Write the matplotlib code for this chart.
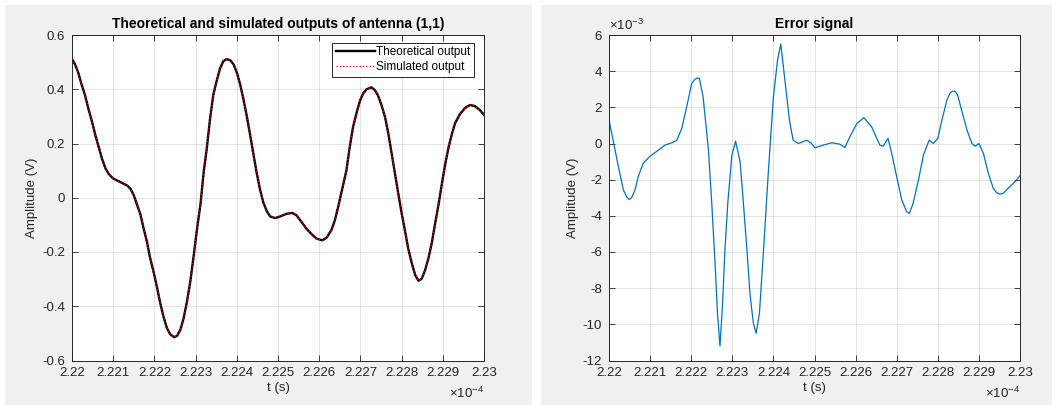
import numpy as np
import matplotlib
matplotlib.use("Agg")
import matplotlib.pyplot as plt
from matplotlib.patches import Rectangle

plt.rcParams["font.family"] = ["Liberation Sans", "DejaVu Sans"]
plt.rcParams["axes.unicode_minus"] = False
plt.rcParams["mathtext.fontset"] = "custom"
plt.rcParams["mathtext.rm"] = "Liberation Sans"

# === Data (time in units of 1e-4 s) ===

t_out = [2.2200, 2.22007, 2.22015, 2.22023, 2.22032, 2.2204, 2.22049, 2.22057,
         2.22065, 2.22073, 2.22081, 2.22089, 2.22099, 2.22109, 2.22121, 2.22134,
         2.22142, 2.2215, 2.22157, 2.22166, 2.22173, 2.22182, 2.22189, 2.22198,
         2.22206, 2.22214, 2.22222, 2.2223, 2.22238, 2.22248, 2.22255, 2.22263,
         2.22271, 2.22279, 2.22287, 2.22295, 2.22303, 2.22312, 2.2232, 2.22327,
         2.22335, 2.22343, 2.22351, 2.22359, 2.22367, 2.22375, 2.22384, 2.22392,
         2.2240, 2.22408, 2.22416, 2.22424, 2.22432, 2.2244, 2.22448, 2.22456,
         2.22464, 2.22473, 2.22481, 2.22493, 2.22505, 2.22521, 2.22535, 2.22545,
         2.22557, 2.22569, 2.22582, 2.22594, 2.22608, 2.22618, 2.2263, 2.22638,
         2.22646, 2.22654, 2.22666, 2.22674, 2.22682, 2.22691, 2.22699, 2.22707,
         2.22715, 2.22727, 2.22735, 2.22743, 2.22751, 2.2276, 2.22768, 2.22776,
         2.22784, 2.22792, 2.2280, 2.22808, 2.22816, 2.22825, 2.22833, 2.22841,
         2.22849, 2.22857, 2.22865, 2.22873, 2.22881, 2.2289, 2.22898, 2.22906,
         2.22914, 2.22922, 2.2293, 2.22942, 2.22954, 2.22966, 2.22978, 2.2299,
         2.2300]
theoretical = [0.511, 0.493, 0.462, 0.419, 0.376, 0.327, 0.278, 0.229,
               0.186, 0.143, 0.109, 0.088, 0.072, 0.064, 0.055, 0.045,
               0.033, 0.009, -0.022, -0.061, -0.108, -0.163, -0.218, -0.273,
               -0.328, -0.387, -0.438, -0.479, -0.503, -0.514, -0.509, -0.487,
               -0.444, -0.383, -0.31, -0.218, -0.12, -0.022, 0.10, 0.18,
               0.29, 0.38, 0.43, 0.475, 0.503, 0.511, 0.507, 0.492,
               0.462, 0.419, 0.364, 0.303, 0.235, 0.164, 0.094, 0.033,
               -0.016, -0.05, -0.069, -0.075, -0.069, -0.059, -0.056, -0.065,
               -0.089, -0.114, -0.135, -0.151, -0.157, -0.147, -0.118, -0.083,
               -0.034, 0.02, 0.10, 0.186, 0.26, 0.315, 0.358, 0.385,
               0.40, 0.407, 0.397, 0.376, 0.343, 0.296, 0.235, 0.162,
               0.088, 0.015, -0.056, -0.12, -0.187, -0.243, -0.285, -0.306,
               -0.298, -0.267, -0.224, -0.169, -0.098, -0.022, 0.054, 0.125,
               0.186, 0.235, 0.276, 0.309, 0.331, 0.342, 0.338, 0.323,
               0.306]
simulated = theoretical

t_err = [2.2200, 2.2201, 2.22023, 2.22035, 2.22043, 2.22049, 2.22055, 2.22063,
         2.22071, 2.22083, 2.2210, 2.2212, 2.22136, 2.22153, 2.22165, 2.22177,
         2.22189, 2.22201, 2.22209, 2.22215, 2.2222, 2.22229, 2.22242, 2.2225,
         2.22258, 2.22264, 2.2227, 2.22276, 2.22282, 2.22289, 2.22299, 2.22308,
         2.22319, 2.22327, 2.22335, 2.22343, 2.22351, 2.22358, 2.22366, 2.22375,
         2.22388, 2.2240, 2.2241, 2.22418, 2.22428, 2.22439, 2.22448, 2.22461,
         2.22481, 2.22491, 2.22501, 2.22521, 2.22542, 2.22562, 2.22574, 2.22586,
         2.22603, 2.2262, 2.22639, 2.22659, 2.22667, 2.22679, 2.22688, 2.2270,
         2.22712, 2.22724, 2.22731, 2.2274, 2.22753, 2.22765, 2.22779, 2.22789,
         2.2280, 2.2281, 2.22822, 2.2283, 2.22836, 2.22842, 2.22848, 2.22858,
         2.22871, 2.22883, 2.22891, 2.2290, 2.22911, 2.22923, 2.22935, 2.22943,
         2.22951, 2.22959, 2.22971, 2.22988, 2.2300]
error_e3 = [1.29, 0.18, -1.29, -2.57, -2.95, -3.1, -3.0, -2.6,
            -1.84, -1.1, -0.70, -0.37, -0.09, 0.04, 0.18, 0.83,
            2.02, 3.31, 3.55, 3.62, 3.6, 2.57, -0.37, -3.3,
            -6.6, -9.4, -11.2, -9.0, -5.9, -3.3, -0.64, 0.13,
            -1.0, -3.3, -5.7, -8.3, -9.9, -10.5, -9.4, -6.25,
            -1.47, 2.57, 4.6, 5.5, 3.5, 1.29, 0.18, 0.0,
            0.18, 0.04, -0.24, -0.09, 0.04, -0.04, -0.22, 0.37,
            1.10, 1.43, 0.92, -0.09, -0.15, 0.28, -0.55, -1.84,
            -3.1, -3.77, -3.86, -3.3, -2.02, -0.64, 0.18, 0.0,
            0.28, 1.29, 2.39, 2.8, 2.89, 2.88, 2.7, 1.84,
            0.74, 0.0, -0.15, 0.0, -0.55, -1.65, -2.48, -2.72,
            -2.8, -2.76, -2.48, -2.11, -1.78]

x_ticks = [2.22, 2.221, 2.222, 2.223, 2.224, 2.225, 2.226, 2.227, 2.228, 2.229, 2.23]
x_ticklabels = ["2.22", "2.221", "2.222", "2.223", "2.224", "2.225", "2.226",
                "2.227", "2.228", "2.229", "2.23"]
y1_ticks = [-0.6, -0.4, -0.2, 0, 0.2, 0.4, 0.6]
y1_ticklabels = ["-0.6", "-0.4", "-0.2", "0", "0.2", "0.4", "0.6"]
y2_ticks = [-12, -10, -8, -6, -4, -2, 0, 2, 4, 6]

DARK = "#262626"
FS = 9.5

# === Figure ===

fig = plt.figure(figsize=(10.6, 4.05), dpi=100, facecolor="white")
W, H = 1060, 405

# gray MATLAB-style panels, kept behind the axes
for x0, x1 in [(5, 532), (541, 1052)]:
    fig.patches.append(Rectangle((x0 / W, 0), (x1 - x0) / W, (H - 5) / H,
                                 transform=fig.transFigure, facecolor="#f0f0f0",
                                 edgecolor="none", zorder=-10))


def style_axes(ax):
    ax.set_facecolor("white")
    ax.set_xlim(2.22, 2.23)
    ax.set_xticks(x_ticks)
    ax.set_xticklabels(x_ticklabels)
    ax.grid(True, color=DARK, alpha=0.15, linewidth=0.6)
    ax.set_axisbelow(True)
    ax.tick_params(direction="in", top=True, right=True, length=4, width=0.6,
                   colors=DARK, labelsize=FS, pad=5)
    for s in ax.spines.values():
        s.set_color(DARK)
        s.set_linewidth(0.7)
    ax.set_xlabel("t (s)", fontsize=FS, color=DARK, labelpad=2)
    ax.set_ylabel("Amplitude (V)", fontsize=FS, color=DARK, labelpad=3)


# --- Left: theoretical vs simulated ---
ax1 = fig.add_axes([72 / W, (H - 360.5) / H, 412 / W, 325.5 / H])
ax1.plot(t_out, theoretical, color="black", linewidth=1.7, label="Theoretical output")
ax1.plot(t_out, simulated, color="red", linewidth=0.9, linestyle=":",
         label="Simulated output")
ax1.set_ylim(-0.6, 0.6)
ax1.set_yticks(y1_ticks)
ax1.set_yticklabels(y1_ticklabels)
style_axes(ax1)
ax1.set_title("Theoretical and simulated outputs of antenna (1,1)",
              fontsize=10, fontweight="bold", pad=5)
leg = ax1.legend(loc="upper right", bbox_to_anchor=(0.976, 0.976), borderaxespad=0,
                 fontsize=8.5, fancybox=False, framealpha=1, edgecolor=DARK,
                 handlelength=3.3, handletextpad=0.15, borderpad=0.3,
                 labelspacing=0.25)
leg.get_frame().set_linewidth(0.7)
ax1.text(1.0, -0.1, "×10$^{-4}$", transform=ax1.transAxes, ha="right", va="center",
         fontsize=FS, color=DARK)

# --- Right: error signal ---
ax2 = fig.add_axes([609 / W, (H - 360.5) / H, 411 / W, 325.5 / H])
ax2.plot(t_err, error_e3, color="#0072BD", linewidth=0.9)
ax2.set_ylim(-12, 6)
ax2.set_yticks(y2_ticks)
style_axes(ax2)
ax2.set_title("Error signal", fontsize=10, fontweight="bold", pad=5)
ax2.text(1.0, -0.1, "×10$^{-4}$", transform=ax2.transAxes, ha="right", va="center",
         fontsize=FS, color=DARK)
ax2.text(0.0, 1.005, "×10$^{-3}$", transform=ax2.transAxes, ha="left", va="bottom",
         fontsize=FS, color=DARK)

fig.savefig("out.png", dpi=100, facecolor="white")
